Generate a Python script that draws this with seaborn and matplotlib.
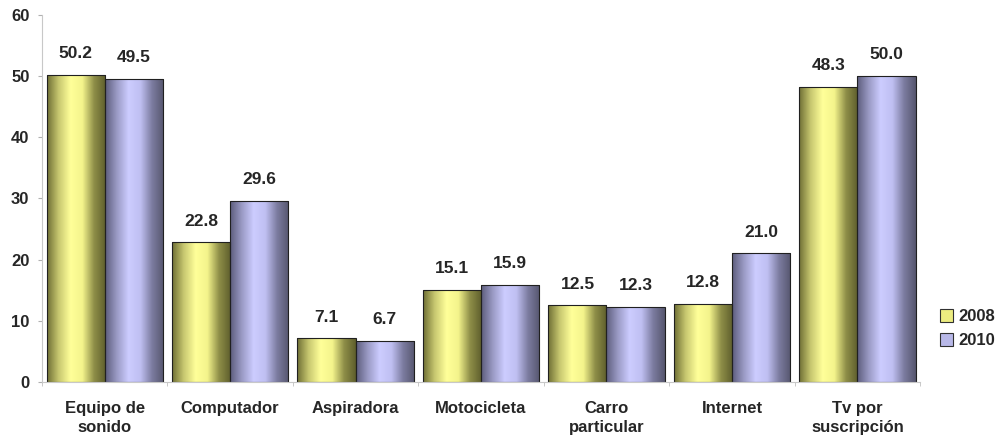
import numpy as np
import pandas as pd
import matplotlib.pyplot as plt
import seaborn as sns
from matplotlib.colors import LinearSegmentedColormap
from matplotlib.ticker import FixedLocator

categories = ['Equipo de\nsonido', 'Computador', 'Aspiradora', 'Motocicleta',
              'Carro\nparticular', 'Internet', 'Tv por\nsuscripción']
years = ['2008', '2010']
vals_2008 = [50.2, 22.8, 7.1, 15.1, 12.5, 12.8, 48.3]
vals_2010 = [49.5, 29.6, 6.7, 15.9, 12.3, 21.0, 50.0]

df = pd.DataFrame({'cat': categories * 2,
                   'year': [years[0]] * 7 + [years[1]] * 7,
                   'val': vals_2008 + vals_2010})

sns.set_style('white')
plt.rcParams['font.family'] = ['Liberation Sans', 'DejaVu Sans']
plt.rcParams['font.weight'] = 'bold'

fig = plt.figure(figsize=(9.98, 4.44), dpi=100)
ax = fig.add_axes([0.042, 0.14, 0.88, 0.826])

pal = {'2008': '#f2f28a', '2010': '#c4c4f2'}
sns.barplot(data=df, x='cat', y='val', hue='year', palette=pal, width=0.926,
            edgecolor='#202020', linewidth=0.8, ax=ax, legend=True)

# cylinder-like shading
grads = {
    '2008': LinearSegmentedColormap.from_list('y', ['#6e6e34', '#c8c870', '#ffff99', '#f4f48c', '#8e8e48', '#5e5e2c']),
    '2010': LinearSegmentedColormap.from_list('b', ['#5c5c7c', '#9a9ac4', '#ccccff', '#c0c0f2', '#7c7ca0', '#56566e']),
}
grad = np.linspace(0, 1, 256).reshape(1, -1)
for cont, yr, vals in zip(ax.containers, years, [vals_2008, vals_2010]):
    for bar in cont:
        x0, w, h = bar.get_x(), bar.get_width(), bar.get_height()
        im = ax.imshow(grad, cmap=grads[yr], aspect='auto',
                       extent=[x0, x0 + w, 0, h], zorder=bar.get_zorder() - 0.1)
        im.set_clip_path(bar)
        bar.set_facecolor('none')
    ax.bar_label(cont, labels=[f'{v:.1f}' for v in vals], padding=10,
                 fontsize=12.5, fontweight='bold')

ax.set_xlim(-0.5, 6.5)
ax.set_ylim(0, 60)
ax.set_yticks(range(0, 61, 10))
ax.set_xlabel('')
ax.set_ylabel('')
ax.tick_params(axis='y', labelsize=12, length=3, color='#b0b0b0', left=True, pad=6)
ax.tick_params(axis='x', labelsize=12, length=0, pad=14)
ax.xaxis.set_minor_locator(FixedLocator(np.arange(-0.5, 7, 1)))
ax.tick_params(axis='x', which='minor', length=3, color='#c0c0c0', bottom=True)
for lab in ax.get_xticklabels() + ax.get_yticklabels():
    lab.set_fontweight('bold')
for lab in ax.get_xticklabels():
    lab.set_linespacing(1.35)

sns.despine(ax=ax)
for s in ['left', 'bottom']:
    ax.spines[s].set_color('#c8c8c8')
    ax.spines[s].set_linewidth(0.8)

handles, labels = ax.get_legend_handles_labels()
ax.legend(handles, labels, loc='center left', bbox_to_anchor=(1.005, 0.145),
          frameon=False, handlelength=0.8, handleheight=0.8,
          handletextpad=0.3, labelspacing=0.5, prop={'weight': 'bold', 'size': 12})
for h, c in zip(ax.get_legend().legend_handles, ['#ecec80', '#b8b8e8']):
    h.set_facecolor(c)
    h.set_edgecolor('#303030')

fig.savefig('out.png', dpi=100)
